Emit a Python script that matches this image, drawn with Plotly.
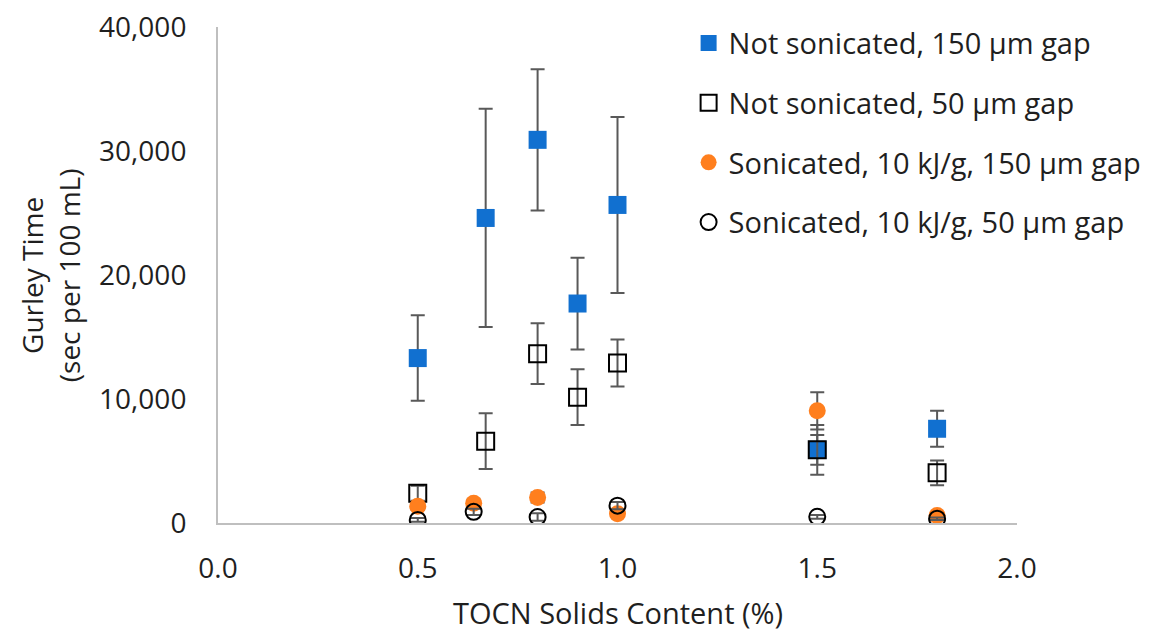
import plotly.graph_objects as go

# Data
x_ns = [0.5, 0.67, 0.8, 0.9, 1.0, 1.5, 1.8]
y_ns150 = [13300, 24600, 30900, 17700, 25650, 5900, 7600]
e_ns150 = [3450, 8800, 5700, 3700, 7100, 2000, 1450]
y_ns50 = [2400, 6600, 13650, 10150, 12900, 5900, 4050]
e_ns50 = [600, 2250, 2450, 2250, 1900, 1200, 1000]

x_s = [0.5, 0.64, 0.8, 1.0, 1.5, 1.8]
y_s150 = [1350, 1600, 2050, 750, 9050, 600]
e_s150 = [300, 300, 400, 200, 1500, 150]
y_s50 = [250, 900, 480, 1400, 500, 350]
e_s50 = [150, 250, 300, 300, 150, 100]

x_tickvals = [0, 0.5, 1.0, 1.5, 2.0]
x_ticktext = ["0.0", "0.5", "1.0", "1.5", "2.0"]
y_tickvals = [0, 10000, 20000, 30000, 40000]
y_ticktext = ["0", "10,000", "20,000", "30,000", "40,000"]

names = ["Not sonicated, 150 µm gap", "Not sonicated, 50 µm gap",
         "Sonicated, 10 kJ/g, 150 µm gap", "Sonicated, 10 kJ/g, 50 µm gap"]
x_title = "TOCN Solids Content (%)"
y_title = "Gurley Time<br>(sec per 100 mL)"

FONT = "Open Sans"
ERRC = "#595959"
TXT = "#1f1f1f"

def err(arr):
    return dict(type="data", array=arr, visible=True, color=ERRC, thickness=2, width=7)

fig = go.Figure()
fig.add_trace(go.Scatter(x=x_ns, y=y_ns150, mode="markers", name=names[0], legendgroup="a",
                         marker=dict(symbol="square", size=18, color="#1170D0", line=dict(width=0)),
                         error_y=err(e_ns150)))
fig.add_trace(go.Scatter(x=x_ns, y=y_ns50, mode="markers", name=names[1], legendgroup="b",
                         marker=dict(symbol="square-open", size=17, color="#000000", line=dict(width=2)),
                         error_y=err(e_ns50)))
fig.add_trace(go.Scatter(x=x_s, y=y_s150, mode="markers", name=names[2], legendgroup="c",
                         marker=dict(symbol="circle", size=17, color="#FF7F1E", line=dict(width=0)),
                         error_y=err(e_s150)))
fig.add_trace(go.Scatter(x=x_s, y=y_s50, mode="markers", name=names[3], legendgroup="d",
                         marker=dict(symbol="circle-open", size=16, color="#000000", line=dict(width=2)),
                         error_y=err(e_s50)))

fig.update_layout(
    width=1159, height=631,
    margin=dict(l=218, r=142, t=27, b=108, autoexpand=False),
    paper_bgcolor="white", plot_bgcolor="white",
    font=dict(family=FONT, color=TXT, size=28),
    showlegend=True,
    legend=dict(x=0.589, y=1.019, xanchor="left", yanchor="top",
                font=dict(family=FONT, size=29, color=TXT),
                traceorder="grouped", tracegroupgap=19, itemwidth=30,
                bgcolor="rgba(0,0,0,0)"),
    xaxis=dict(range=[0, 2], tickvals=x_tickvals, ticktext=x_ticktext,
               showgrid=False, zeroline=False, showline=True, linecolor="#BFBFBF", linewidth=2,
               ticks="", ticklabelstandoff=19, automargin=False,
               tickfont=dict(size=28, color=TXT)),
    yaxis=dict(range=[0, 40000], tickvals=y_tickvals, ticktext=y_ticktext,
               showgrid=False, zeroline=False, showline=True, linecolor="#BFBFBF", linewidth=2,
               ticks="", ticklabelstandoff=24, automargin=False,
               tickfont=dict(size=28, color=TXT)),
    annotations=[
        dict(text=x_title, xref="paper", yref="paper", x=0.5, y=-0.181,
             xanchor="center", yanchor="middle", showarrow=False,
             font=dict(size=29, color=TXT, family=FONT)),
        dict(text=y_title, xref="paper", yref="paper", x=-0.21, y=0.5,
             xanchor="center", yanchor="middle", showarrow=False, textangle=-90,
             font=dict(size=28, color=TXT, family=FONT)),
    ],
)

fig.write_html("out.html")
